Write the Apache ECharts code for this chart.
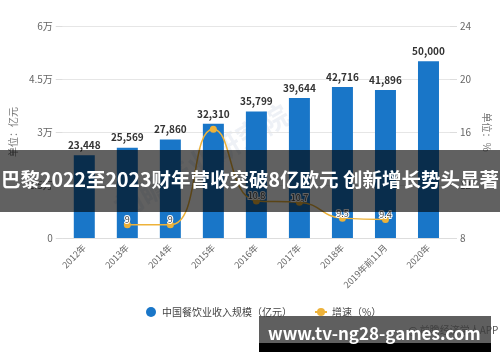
<!DOCTYPE html>
<html><head><meta charset="utf-8">
<script src="https://cdn.jsdelivr.net/npm/echarts@6/dist/echarts.min.js"></script>
<style>html,body{margin:0;padding:0;background:#fff}#c{width:500px;height:362px}</style>
</head><body><div id="c"></div>
<script>
var categories = ['2012年','2013年','2014年','2015年','2016年','2017年','2018年','2019年前11月','2020年'];
var revenue = [23448, 25569, 27860, 32310, 35799, 39644, 42716, 41896, 50000];
var growth = [null, 9, 9, 16.2, 10.8, 10.7, 9.5, 9.4, null];
var leftTicks = {min: 0, max: 60000, interval: 15000};
var rightTicks = {min: 8, max: 24, interval: 4};
var titleText = '巴黎2022至2023财年营收突破8亿欧元 创新增长势头显著';
var siteText = 'www.tv-ng28-games.com';
var legendNames = ['中国餐饮业收入规模（亿元）', '增速（%）'];

var font = '"Noto Sans CJK SC","Noto Sans",sans-serif';
var chart = echarts.init(document.getElementById('c'), null, {renderer: 'canvas'});
function wan(v){ if(v===0) return '0'; return (v/10000) + '万'; }
chart.setOption({
  animation: false,
  textStyle: {fontFamily: font},
  grid: {left: 60, right: 46, top: 26, bottom: 124, containLabel: false},
  legend: {
    data: [{name: legendNames[0], icon: 'circle'}, {name: legendNames[1]}],
    bottom: 40, left: 141, itemWidth: 12, itemHeight: 10, itemGap: 22,
    textStyle: {fontSize: 10, color: '#444', fontFamily: font}
  },
  xAxis: {
    type: 'category', data: categories,
    axisLine: {show: true, lineStyle: {color: '#ddd'}},
    axisTick: {show: false},
    axisLabel: {rotate: 45, fontSize: 9, color: '#666', interval: 0, margin: 8}
  },
  yAxis: [{
    type: 'value', min: leftTicks.min, max: leftTicks.max, interval: leftTicks.interval,
    name: '单位：亿元', nameLocation: 'middle', nameGap: 40, nameRotate: 90,
    nameTextStyle: {fontSize: 10, color: '#777'},
    axisLine: {show: false}, axisTick: {show: true, length: 7, lineStyle: {color: '#ddd'}},
    axisLabel: {formatter: wan, fontSize: 10, color: '#666', margin: 10},
    splitLine: {lineStyle: {color: '#e6e6e6'}}
  }, {
    type: 'value', min: rightTicks.min, max: rightTicks.max, interval: rightTicks.interval,
    name: '单位：%', nameLocation: 'middle', nameGap: 26, nameRotate: -90,
    nameTextStyle: {fontSize: 10, color: '#777'},
    axisLine: {show: false}, axisTick: {show: true, length: 7, lineStyle: {color: '#ddd'}},
    axisLabel: {fontSize: 10, color: '#666', margin: 10},
    splitLine: {show: false}
  }],
  series: [{
    name: legendNames[0], type: 'bar', data: revenue, barWidth: 21,
    itemStyle: {color: '#1976C8'},
    label: {show: true, position: 'top', fontSize: 10, fontWeight: 'bold', color: '#333',
      formatter: function(p){ return p.value.toLocaleString('en-US'); }}
  }, {
    name: legendNames[1], type: 'line', yAxisIndex: 1, data: growth, smooth: true,
    symbol: 'circle', symbolSize: 7,
    itemStyle: {color: '#EDB23A'}, lineStyle: {color: '#EDB23A', width: 1.5},
    label: {show: true, position: 'top', fontSize: 9, color: '#444', distance: 0, offset: [0, 3],
      textBorderColor: '#fff', textBorderWidth: 2,
      formatter: function(p){ return p.dataIndex === 3 ? '' : p.value; }}
  }],
  graphic: [
    {type: 'text', left: 110, top: 100, rotation: Math.PI/6,
      style: {text: '前瞻产业研究院', font: 'bold 28px ' + font, fill: 'rgba(200,210,225,0.3)'}, z: 0},
    {type: 'rect', left: 0, top: 150, shape: {width: 500, height: 62},
      style: {fill: 'rgba(0,0,0,0.62)'}, z: 100},
    {type: 'text', left: 'center', top: 170,
      style: {text: titleText, font: 'bold 19.5px ' + font, fill: '#fff'}, z: 101},
    {type: 'text', left: 408, top: 325,
      style: {text: '@ 前瞻经济学人APP', font: '10px ' + font, fill: '#555'}, z: 99},
    {type: 'rect', left: 259, top: 316, shape: {width: 232, height: 28},
      style: {fill: 'rgba(60,60,60,0.82)'}, z: 100},
    {type: 'rect', left: 259, top: 343, shape: {width: 232, height: 9},
      style: {fill: '#000'}, z: 100},
    {type: 'text', left: 268, top: 325,
      style: {text: siteText, font: 'bold 17px ' + font, fill: '#fff'}, z: 101}
  ]
});
</script></body></html>
